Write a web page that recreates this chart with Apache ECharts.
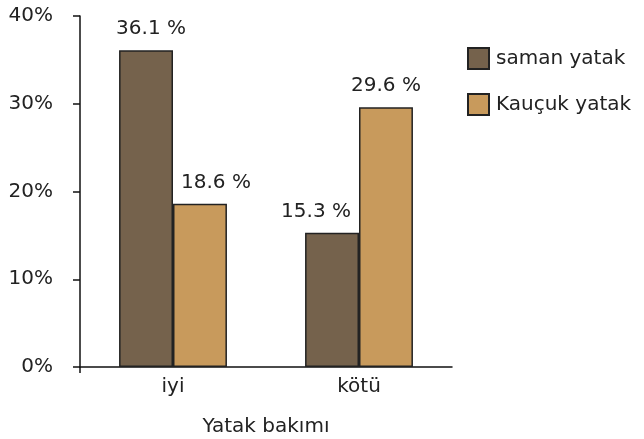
<!DOCTYPE html>
<html><head><meta charset="utf-8">
<script src="https://cdn.jsdelivr.net/npm/echarts@6/dist/echarts.min.js"></script>
<style>html,body{margin:0;padding:0;background:#fff}#c{width:644px;height:439px}</style>
</head><body><div id="c"></div>
<script>
const categories = ['iyi', 'kötü'];
const seriesNames = ['saman yatak', 'Kauçuk yatak'];
const samanValues = [36.1, 15.3];
const kaucukValues = [18.6, 29.6];
const yTicks = [0, 10, 20, 30, 40];
const colors = ['#75624C', '#C89A5C'];
// label horizontal nudges (style only)
const samanLabelShift = [5, -16];
const kaucukLabelShift = [16, 0];
const font = 'DejaVu Sans, Verdana, sans-serif';
const txt = '#222222';
const fs = 20;
const chart = echarts.init(document.getElementById('c'), null, {renderer: 'canvas'});
function lbl() {
  return {show: true, position: 'top', distance: 11, formatter: '{c} %', fontFamily: font, fontSize: fs, color: txt};
}
function mkData(vals, shifts) {
  return vals.map((v, i) => ({value: v, label: {offset: [shifts[i], 0]}}));
}
chart.setOption({
  animation: false,
  grid: {left: 80, right: 192, top: 16, bottom: 72, containLabel: false, outerBoundsMode: 'none'},
  legend: {
    orient: 'vertical', left: 467, top: 47, padding: 0, itemWidth: 21, itemHeight: 21, itemGap: 23,
    icon: 'rect',
    textStyle: {fontFamily: font, fontSize: fs, color: txt, padding: [0, 0, 0, 2]},
    data: seriesNames
  },
  xAxis: {
    type: 'category', data: categories,
    name: 'Yatak bakımı', nameLocation: 'middle', nameGap: 50,
    nameTextStyle: {fontFamily: font, fontSize: fs, color: txt},
    axisLine: {lineStyle: {color: '#111', width: 1.5}},
    axisTick: {show: false},
    axisLabel: {fontFamily: font, fontSize: fs, color: txt, margin: 10}
  },
  yAxis: {
    type: 'value', min: yTicks[0], max: yTicks[yTicks.length - 1], interval: 10,
    axisLine: {show: true, lineStyle: {color: '#111', width: 1.5}},
    axisTick: {show: true, length: 7, lineStyle: {color: '#111', width: 1.5}},
    splitLine: {show: false},
    axisLabel: {fontFamily: font, fontSize: fs, color: txt, margin: 27, formatter: '{value}%'}
  },
  series: [
    {name: seriesNames[0], type: 'bar', data: mkData(samanValues, samanLabelShift), barGap: '0%', barCategoryGap: '42%',
     itemStyle: {color: colors[0], borderColor: '#222', borderWidth: 1.5}, label: lbl()},
    {name: seriesNames[1], type: 'bar', data: mkData(kaucukValues, kaucukLabelShift), barGap: '0%', barCategoryGap: '42%',
     itemStyle: {color: colors[1], borderColor: '#222', borderWidth: 1.5}, label: lbl()}
  ]
});
// small tick below the x axis at its start, located through the library's grid
const rect = chart.getModel().getComponent('grid').coordinateSystem.getRect();
const origin = chart.convertToPixel({yAxisIndex: 0}, 0);
chart.setOption({graphic: [{type: 'line', shape: {x1: rect.x, y1: origin, x2: rect.x, y2: origin + 6}, style: {stroke: '#111', lineWidth: 1.5}}]});
</script></body></html>
